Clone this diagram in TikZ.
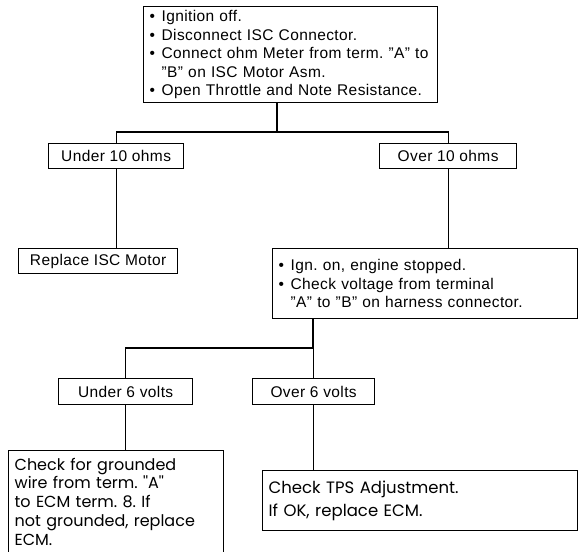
\documentclass[tikz,border=0pt]{standalone}
\usepackage{fontspec}
\setmainfont{Liberation Sans}[LetterSpace=2.5]
\newfontfamily\geofont{Poppins}
\newcommand\itm{\makebox[12pt][l]{\textbullet}}
\newcommand\cnt{\hspace*{12pt}}
\begin{document}
\frenchspacing
\begin{tikzpicture}[x=1pt,y=-1pt,
  box/.style={draw, line width=1.3pt, inner sep=0pt,
    font=\fontsize{15.5}{18.6}\selectfont},
  lbox/.style={box, align=left, anchor=north west, inner xsep=6pt},
  cbox/.style={box, anchor=north west, align=center},
  gbox/.style={lbox, font=\geofont\fontsize{16}{18.8}\selectfont},
  wire/.style={line width=1.3pt}]
\clip (0,0) rectangle (579,552);
\fill[white] (0,0) rectangle (579,552);

% first test
\node[lbox, text width=282pt, minimum height=96pt] (top) at (143,6)
  {\mbox{\itm Ignition off.}\\
   \mbox{\itm Disconnect ISC Connector.}\\
   \mbox{\itm Connect ohm Meter from term. ''A'' to}\\
   \mbox{\cnt ''B'' on ISC Motor Asm.}\\
   \mbox{\itm Open Throttle and Note Resistance.}};

% resistance results
\node[cbox, minimum width=135pt, minimum height=25pt] (u10) at (48,143) {Under 10 ohms};
\node[cbox, minimum width=137pt, minimum height=25pt] (o10) at (379,143) {Over 10 ohms};

\node[cbox, minimum width=159pt, minimum height=25pt] (rep) at (18,248) {Replace ISC Motor};
\node[lbox, text width=293pt, minimum height=70pt] (volt) at (272,248)
  {\mbox{\itm Ign. on, engine stopped.}\\
   \mbox{\itm Check voltage from terminal}\\
   \mbox{\cnt ''A'' to ''B'' on harness connector.}};

% voltage results
\node[cbox, minimum width=134pt, minimum height=26pt] (u6) at (58,378) {Under 6 volts};
\node[cbox, minimum width=122pt, minimum height=26pt] (o6) at (252,378) {Over 6 volts};

\node[gbox, text width=203pt, minimum height=102pt] (gnd) at (8,450)
  {Check for grounded\\
   wire from term. ''A''\\
   to ECM term. 8. If\\
   not grounded, replace\\
   ECM.};
\node[gbox, text width=303pt, minimum height=60pt,
      font=\geofont\fontsize{16.5}{23}\selectfont] (tps) at (262,470)
  {Check TPS Adjustment.\\
   If OK, replace ECM.};

% connectors
\coordinate (j1) at (277,132);
\coordinate (j2) at (313,348);
\draw[wire] (top.south -| j1) -- (j1);
\draw[wire] (u10.north) -- (u10.north |- j1) -- (o10.north |- j1) -- (o10.north);
\draw[wire] (u10.south) -- (u10.south |- rep.north);
\draw[wire] (o10.south) -- (o10.south |- volt.north);
\draw[wire] (volt.south -| j2) -- (j2);
\draw[wire] (u6.north) -- (u6.north |- j2) -- (j2);
\draw[wire] (o6.north) -- (o6.north |- j2);
\draw[wire] (o6.south) -- (o6.south |- tps.north);
\draw[wire] (u6.south) -- (u6.south |- gnd.north);
\end{tikzpicture}
\end{document}
